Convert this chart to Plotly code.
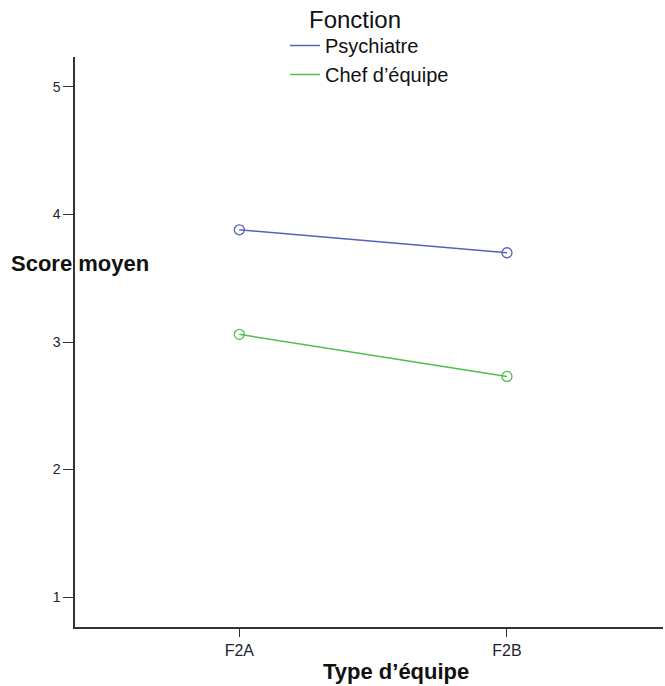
import plotly.graph_objects as go

categories = ["F2A", "F2B"]
series_names = ["Psychiatre", "Chef d\u2019\u00e9quipe"]
psychiatre = [3.88, 3.70]
chef = [3.06, 2.73]
colors = ["#5662b8", "#4cbf4c"]
y_ticks = [1, 2, 3, 4, 5]

W, H = 665, 686
L, R, T, B = 75, 2, 57, 59
PW, PH = W - L - R, H - T - B


def px(x):
    return (x - L) / PW


def py(y):
    return 1 - (y - T) / PH


fig = go.Figure()
for name, vals, col in zip(series_names, [psychiatre, chef], colors):
    fig.add_trace(go.Scatter(
        x=categories, y=vals, name=name, mode="lines+markers",
        line=dict(color=col, width=1.5),
        marker=dict(symbol="circle-open", size=10, color=col, line=dict(width=1.3)),
        showlegend=False,
    ))
    # legend-only entry (line sample only, like the reference)
    fig.add_trace(go.Scatter(
        x=[None], y=[None], name=name, mode="lines",
        line=dict(color=col, width=1.5), showlegend=True,
    ))

fig.update_layout(
    width=W, height=H,
    margin=dict(l=L, r=R, t=T, b=B),
    plot_bgcolor="white", paper_bgcolor="white",
    font=dict(family="Liberation Sans, Arial, sans-serif", color="#111111"),
    showlegend=True,
    legend=dict(
        x=px(285), y=py(26), xanchor="left", yanchor="top",
        font=dict(size=20, color="#111111"),
        itemwidth=30, tracegroupgap=0,
        bgcolor="rgba(0,0,0,0)", borderwidth=0,
    ),
)

fig.update_xaxes(
    type="category", range=[-0.614, 1.583],
    showline=True, linecolor="#333333", linewidth=1.5,
    ticks="outside", ticklen=8, tickcolor="#333333",
    tickfont=dict(size=16, color="#222233"),
    showgrid=False, zeroline=False,
)
fig.update_yaxes(
    range=[0.765, 5.235], tickvals=y_ticks,
    showline=True, linecolor="#333333", linewidth=1.5,
    ticks="outside", ticklen=10, tickcolor="#333333",
    tickfont=dict(size=14, color="#222233"),
    showgrid=False, zeroline=False,
)

fig.add_annotation(text="Fonction", x=px(355), y=py(19), xref="paper", yref="paper",
                   xanchor="center", yanchor="middle",
                   showarrow=False, font=dict(size=24, color="#111111"))
fig.add_annotation(text="<b>Score moyen</b>", xref="paper", yref="paper",
                   x=px(9), y=py(263), xanchor="left", yanchor="middle",
                   showarrow=False, font=dict(size=22, color="#111111"))
fig.add_annotation(text="<b>Type d\u2019\u00e9quipe</b>", xref="paper", yref="paper",
                   x=px(396), y=py(671), xanchor="center", yanchor="middle",
                   showarrow=False, font=dict(size=22, color="#111111"))

fig.write_html("out.html", config={"displayModeBar": False})

# remove the browser's default page margin so the figure sits at the top-left corner
with open("out.html", "r", encoding="utf-8") as f:
    html = f.read()
html = html.replace("<head>", "<head><style>html,body{margin:0;padding:0;overflow:hidden;}</style>", 1)
with open("out.html", "w", encoding="utf-8") as f:
    f.write(html)
